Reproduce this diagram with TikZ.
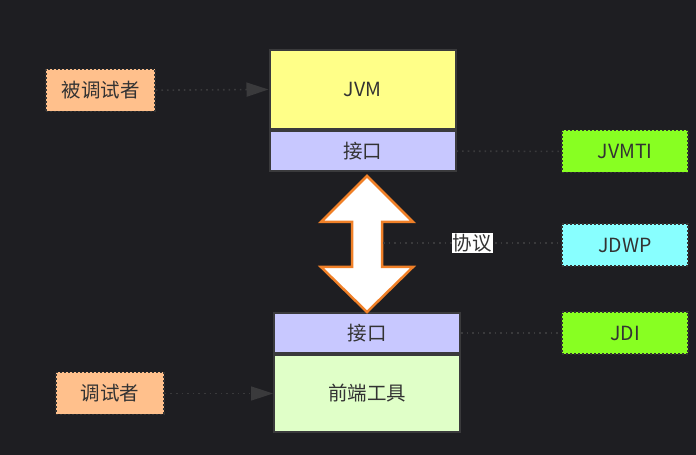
\documentclass[tikz,border=0pt]{standalone}
\usepackage{xcolor}
\usepackage{fontspec}
\setmainfont{Noto Sans CJK SC}
\usepackage{tikz}
\definecolor{canvas}{RGB}{30,30,34}
\definecolor{ink}{RGB}{51,51,51}
\definecolor{edge}{RGB}{58,58,60}
\definecolor{jvmfill}{RGB}{255,255,136}
\definecolor{apifill}{RGB}{200,200,255}
\definecolor{toolfill}{RGB}{224,255,200}
\definecolor{userfill}{RGB}{255,192,140}
\definecolor{limefill}{RGB}{136,255,34}
\definecolor{cyanfill}{RGB}{136,255,255}
\definecolor{flow}{RGB}{240,128,40}
\usetikzlibrary{shapes,arrows.meta,positioning,calc}

\begin{document}
\begin{tikzpicture}[
    x=1pt, y=1pt,
    block/.style={rectangle, draw=edge, line width=2pt, inner sep=0pt, minimum width=186pt, align=center, text=ink, font=\fontsize{19.5}{22}\selectfont},
    tag/.style={rectangle, draw=ink, dash pattern=on 2pt off 2pt, line width=1.6pt, inner sep=0pt, minimum height=42pt, align=center, text=ink, font=\fontsize{19.5}{22}\selectfont},
    dots/.style={draw=edge, line width=1.6pt, dash pattern=on 1.6pt off 4pt},
    arrow/.style={dots, -{Triangle[length=22pt, width=14pt, fill=edge]}}
]
    \fill[canvas] (0,0) rectangle (696,455);
    \useasboundingbox (0,0) rectangle (696,455);

    % Debuggee side
    \node[block, fill=jvmfill, minimum height=79pt] (jvm) at (362.5,365.5) {JVM};
    \node[block, fill=apifill, minimum height=40pt] (agent) at (362.5,304) {接口};
    \node[tag, fill=userfill, minimum width=109pt] (debuggee) at (100.5,364.5) {被调试者};

    % Debugger side
    \node[block, fill=apifill, minimum height=40pt] (client) at (367,122) {接口};
    \node[block, fill=toolfill, minimum height=77pt] (tool) at (367,61.5) {前端工具};
    \node[tag, fill=userfill, minimum width=108pt] (debugger) at (110,61.5) {调试者};

    % Specs
    \node[tag, fill=limefill, minimum width=126pt] (jvmti) at (625,303.5) {JVMTI};
    \node[tag, fill=cyanfill, minimum width=126pt] (jdwp) at (625,210) {JDWP};
    \node[tag, fill=limefill, minimum width=126pt] (jdi) at (625,122) {JDI};

    % Wire
    \draw[fill=white, draw=flow, line width=2.5pt, line join=miter]
        (367,279) -- (413,233) -- (382,233) -- (382,188) -- (413,188) -- (367,143)
        -- (321,188) -- (352,188) -- (352,233) -- (321,233) -- cycle;
    \coordinate (wire) at (383,212);

    % Arrows
    \draw[arrow] (debuggee) -- (jvm.west);
    \draw[arrow] (debugger) -- (tool.west);
    \draw[dots] (agent) -- (jvmti);
    \draw[dots] (client) -- (jdi);
    \draw[dots] (wire) -- node[fill=white, inner sep=1pt, text=ink, font=\fontsize{19.5}{22}\selectfont] (proto) {协议} (jdwp.west |- wire);
\end{tikzpicture}
\end{document}
